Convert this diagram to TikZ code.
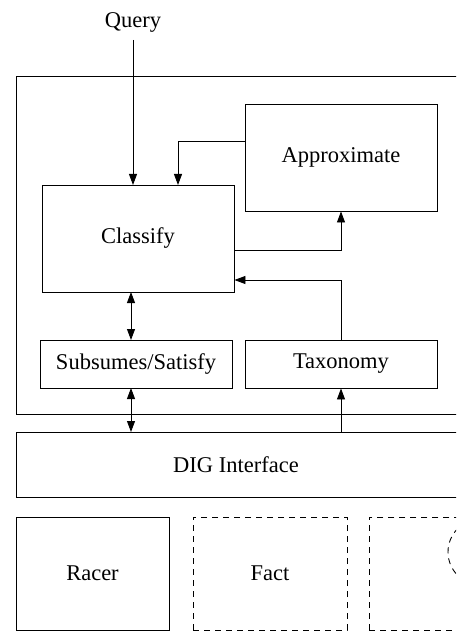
\documentclass[tikz,border=0pt]{standalone}
\usepackage{fontspec}
\setmainfont{Liberation Serif}
\usetikzlibrary{arrows.meta}
\begin{document}
\begin{tikzpicture}[x=1pt,y=-1pt,
  lbl/.style={font=\fontsize{22.5}{27}\selectfont},
  box/.style={draw, line width=0.9pt, inner sep=0pt, lbl},
  dbox/.style={box, dash pattern=on 6pt off 5pt},
  conn/.style={line width=0.9pt},
  tip/.style={-{Triangle[length=11pt,width=8pt]}},
  both/.style={{Triangle[length=11pt,width=8pt]}-{Triangle[length=11pt,width=8pt]}}]
\useasboundingbox (0,0) rectangle (456,631);
\clip (0,0) rectangle (456,631);
% outer frame
\node[box, minimum width=470pt, minimum height=338pt, anchor=north west] (outer) at (16,76) {};
% inner boxes
\node[box, minimum width=192pt, minimum height=107pt] (approx) at (341,157.5) {Approximate};
\node[box, minimum width=192pt, minimum height=107pt] (classify) at (138,238.5) {Classify};
\node[box, minimum width=192pt, minimum height=48pt] (subs) at (136,364) {Subsumes/Satisfy};
\node[box, minimum width=192pt, minimum height=48pt] (tax) at (341,364) {Taxonomy};
\node[box, minimum width=470pt, minimum height=65pt, anchor=north west] (dig) at (16,432) {};
\node[lbl] (diglabel) at (236,464.5) {DIG Interface};
% reasoners
\node[box, minimum width=153pt, minimum height=113pt] (racer) at (92.5,573.5) {Racer};
\node[dbox, minimum width=154pt, minimum height=113pt] (fact) at (270,573.5) {Fact};
\node[dbox, minimum width=154pt, minimum height=113pt, anchor=north west] (other) at (369,517) {};
\node[draw, dash pattern=on 6pt off 5pt, line width=0.9pt, circle, minimum size=66pt, inner sep=0pt] (otherc) at (481,552) {};
% query
\node[lbl] (query) at (133,22) {Query};
\coordinate (qstart) at (133,40);
\draw[conn, tip] (qstart) -- (133,185);
% approximate -> classify
\draw[conn, tip] (approx.west |- 0,141) -| (178,185);
% classify -> approximate
\draw[conn, tip] (classify.east |- 0,250) -| (approx.south);
% taxonomy -> classify
\draw[conn, tip] (tax.north) |- (classify.east |- 0,280);
% classify <-> subsumes
\draw[conn, both] (131,292) -- (131,340);
% subsumes <-> dig
\draw[conn, both] (131,388) -- (131,432);
% dig -> taxonomy
\draw[conn, tip] (341,432) -- (tax.south);
\end{tikzpicture}
\end{document}
